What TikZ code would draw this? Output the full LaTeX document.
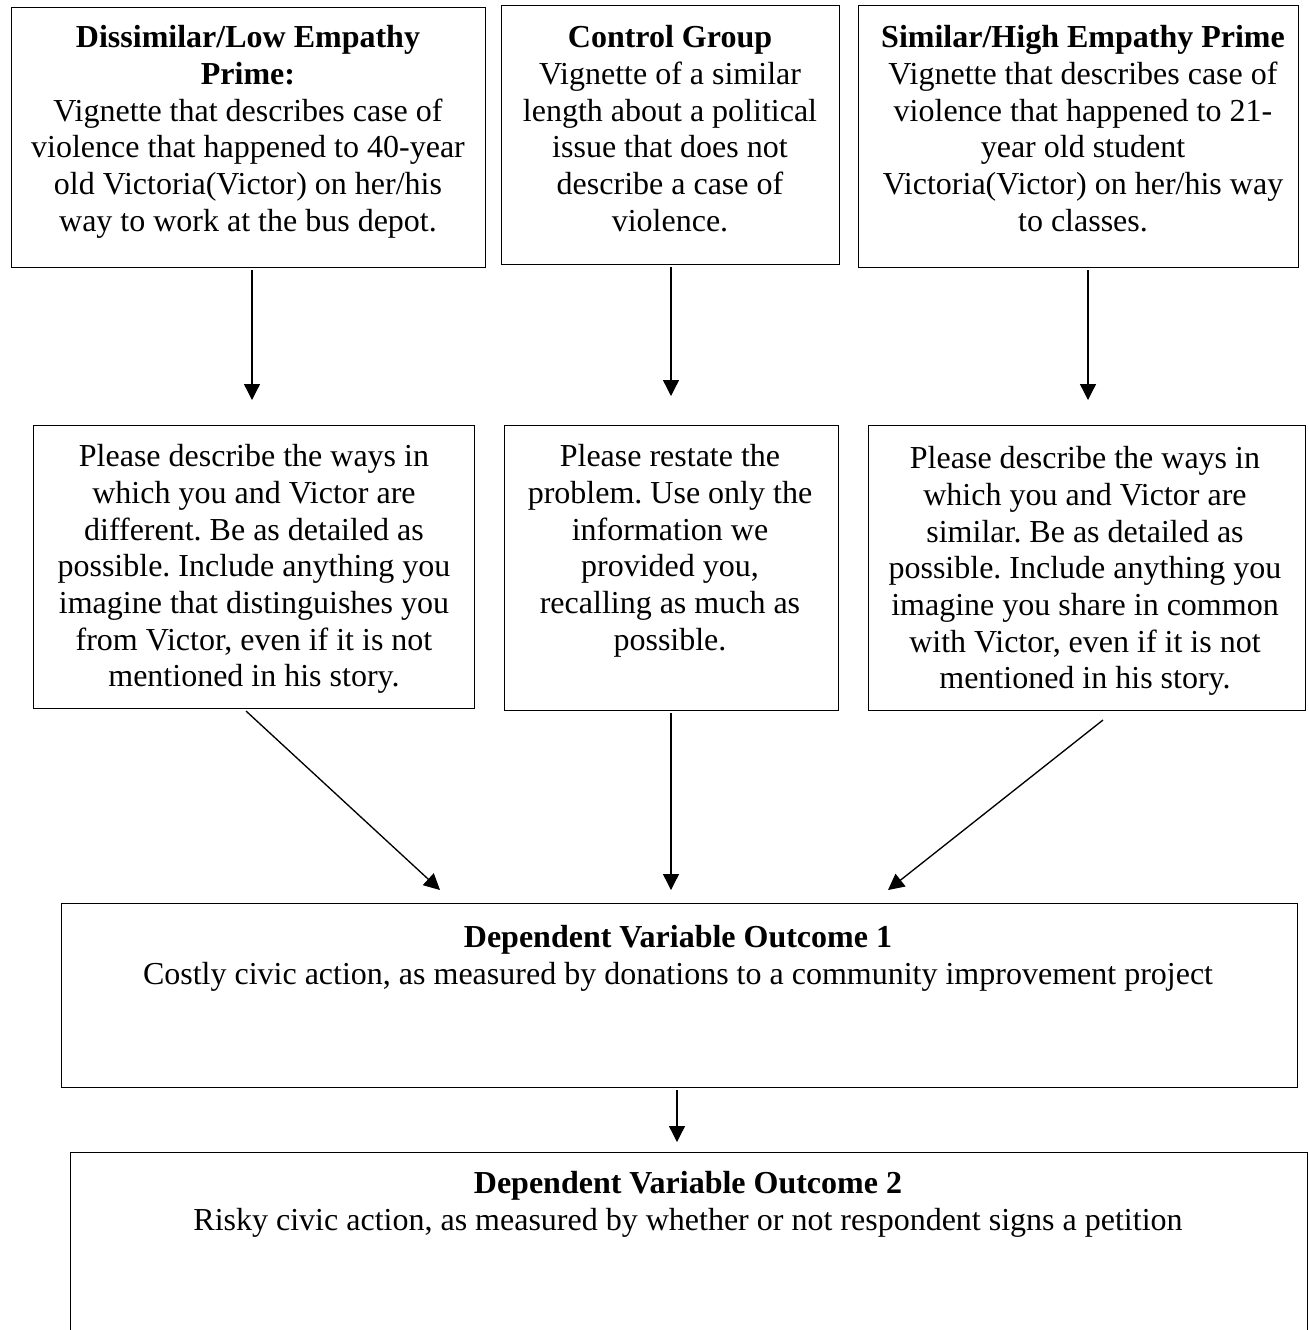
\documentclass[tikz,border=0pt]{standalone}
\usepackage{fontspec}
\setmainfont{Liberation Serif}
\usetikzlibrary{arrows.meta}
\frenchspacing
\begin{document}
\begin{tikzpicture}[x=0.375pt,y=-0.375pt,
  box/.style={draw,line width=0.5pt,inner sep=0pt,anchor=north west},
  txt/.style={align=center,inner sep=0pt,anchor=north,font=\fontsize{12pt}{13.75pt}\selectfont},
  arr/.style={line width=0.5pt,-{Triangle[length=6pt,width=6pt]}}]
\useasboundingbox (0,0) rectangle (1309,1330);
% top row boxes
\node[box,minimum width=474*0.375pt,minimum height=260*0.375pt] (A) at (11,7) {};
\node[box,minimum width=338*0.375pt,minimum height=259*0.375pt] (B) at (501,5) {};
\node[box,minimum width=440*0.375pt,minimum height=262*0.375pt] (C) at (858,5) {};
\node[txt] (At) at (248,25) {\textbf{Dissimilar/Low Empathy}\\\textbf{Prime:}\\Vignette that describes case of\\violence that happened to 40-year\\old Victoria(Victor) on her/his\\way to work at the bus depot.};
\node[txt] (Bt) at (670,25) {\textbf{Control Group}\\Vignette of a similar\\length about a political\\issue that does not\\describe a case of\\violence.};
\node[txt] (Ct) at (1083,25) {\textbf{Similar/High Empathy Prime}\\Vignette that describes case of\\violence that happened to 21-\\year old student\\Victoria(Victor) on her/his way\\to classes.};
% middle row boxes
\node[box,minimum width=441*0.375pt,minimum height=283*0.375pt] (D) at (33,425) {};
\node[box,minimum width=334*0.375pt,minimum height=285*0.375pt] (E) at (504,425) {};
\node[box,minimum width=437*0.375pt,minimum height=285*0.375pt] (F) at (868,425) {};
\node[txt] (Dt) at (254,444) {Please describe the ways in\\which you and Victor are\\different. Be as detailed as\\possible. Include anything you\\imagine that distinguishes you\\from Victor, even if it is not\\mentioned in his story.};
\node[txt] (Et) at (670,444) {Please restate the\\problem. Use only the\\information we\\provided you,\\recalling as much as\\possible.};
\node[txt] (Ft) at (1085,446) {Please describe the ways in\\which you and Victor are\\similar. Be as detailed as\\possible. Include anything you\\imagine you share in common\\with Victor, even if it is not\\mentioned in his story.};
% outcome boxes
\node[box,minimum width=1236*0.375pt,minimum height=184*0.375pt] (G) at (61,903) {};
\node[txt] (Gt) at (678,925) {\textbf{Dependent Variable Outcome 1}\\Costly civic action, as measured by donations to a community improvement project};
\node[box,minimum width=1237*0.375pt,minimum height=300*0.375pt] (H) at (70,1152) {};
\node[txt] (Ht) at (688,1171) {\textbf{Dependent Variable Outcome 2}\\Risky civic action, as measured by whether or not respondent signs a petition};
% arrow endpoints
\coordinate (a1) at (252,270); \coordinate (d1) at (252,400);
\coordinate (b1) at (671,267); \coordinate (e1) at (671,396);
\coordinate (c1) at (1088,270); \coordinate (f1) at (1088,400);
\coordinate (d2) at (246,711); \coordinate (g1) at (440,890);
\coordinate (e2) at (671,713); \coordinate (g2) at (671,890);
\coordinate (f2) at (1103,720); \coordinate (g3) at (888,890);
\coordinate (g4) at (677,1090); \coordinate (h1) at (677,1142);
\draw[arr] (a1) -- (d1);
\draw[arr] (b1) -- (e1);
\draw[arr] (c1) -- (f1);
\draw[arr] (d2) -- (g1);
\draw[arr] (e2) -- (g2);
\draw[arr] (f2) -- (g3);
\draw[arr] (g4) -- (h1);
\end{tikzpicture}
\end{document}
